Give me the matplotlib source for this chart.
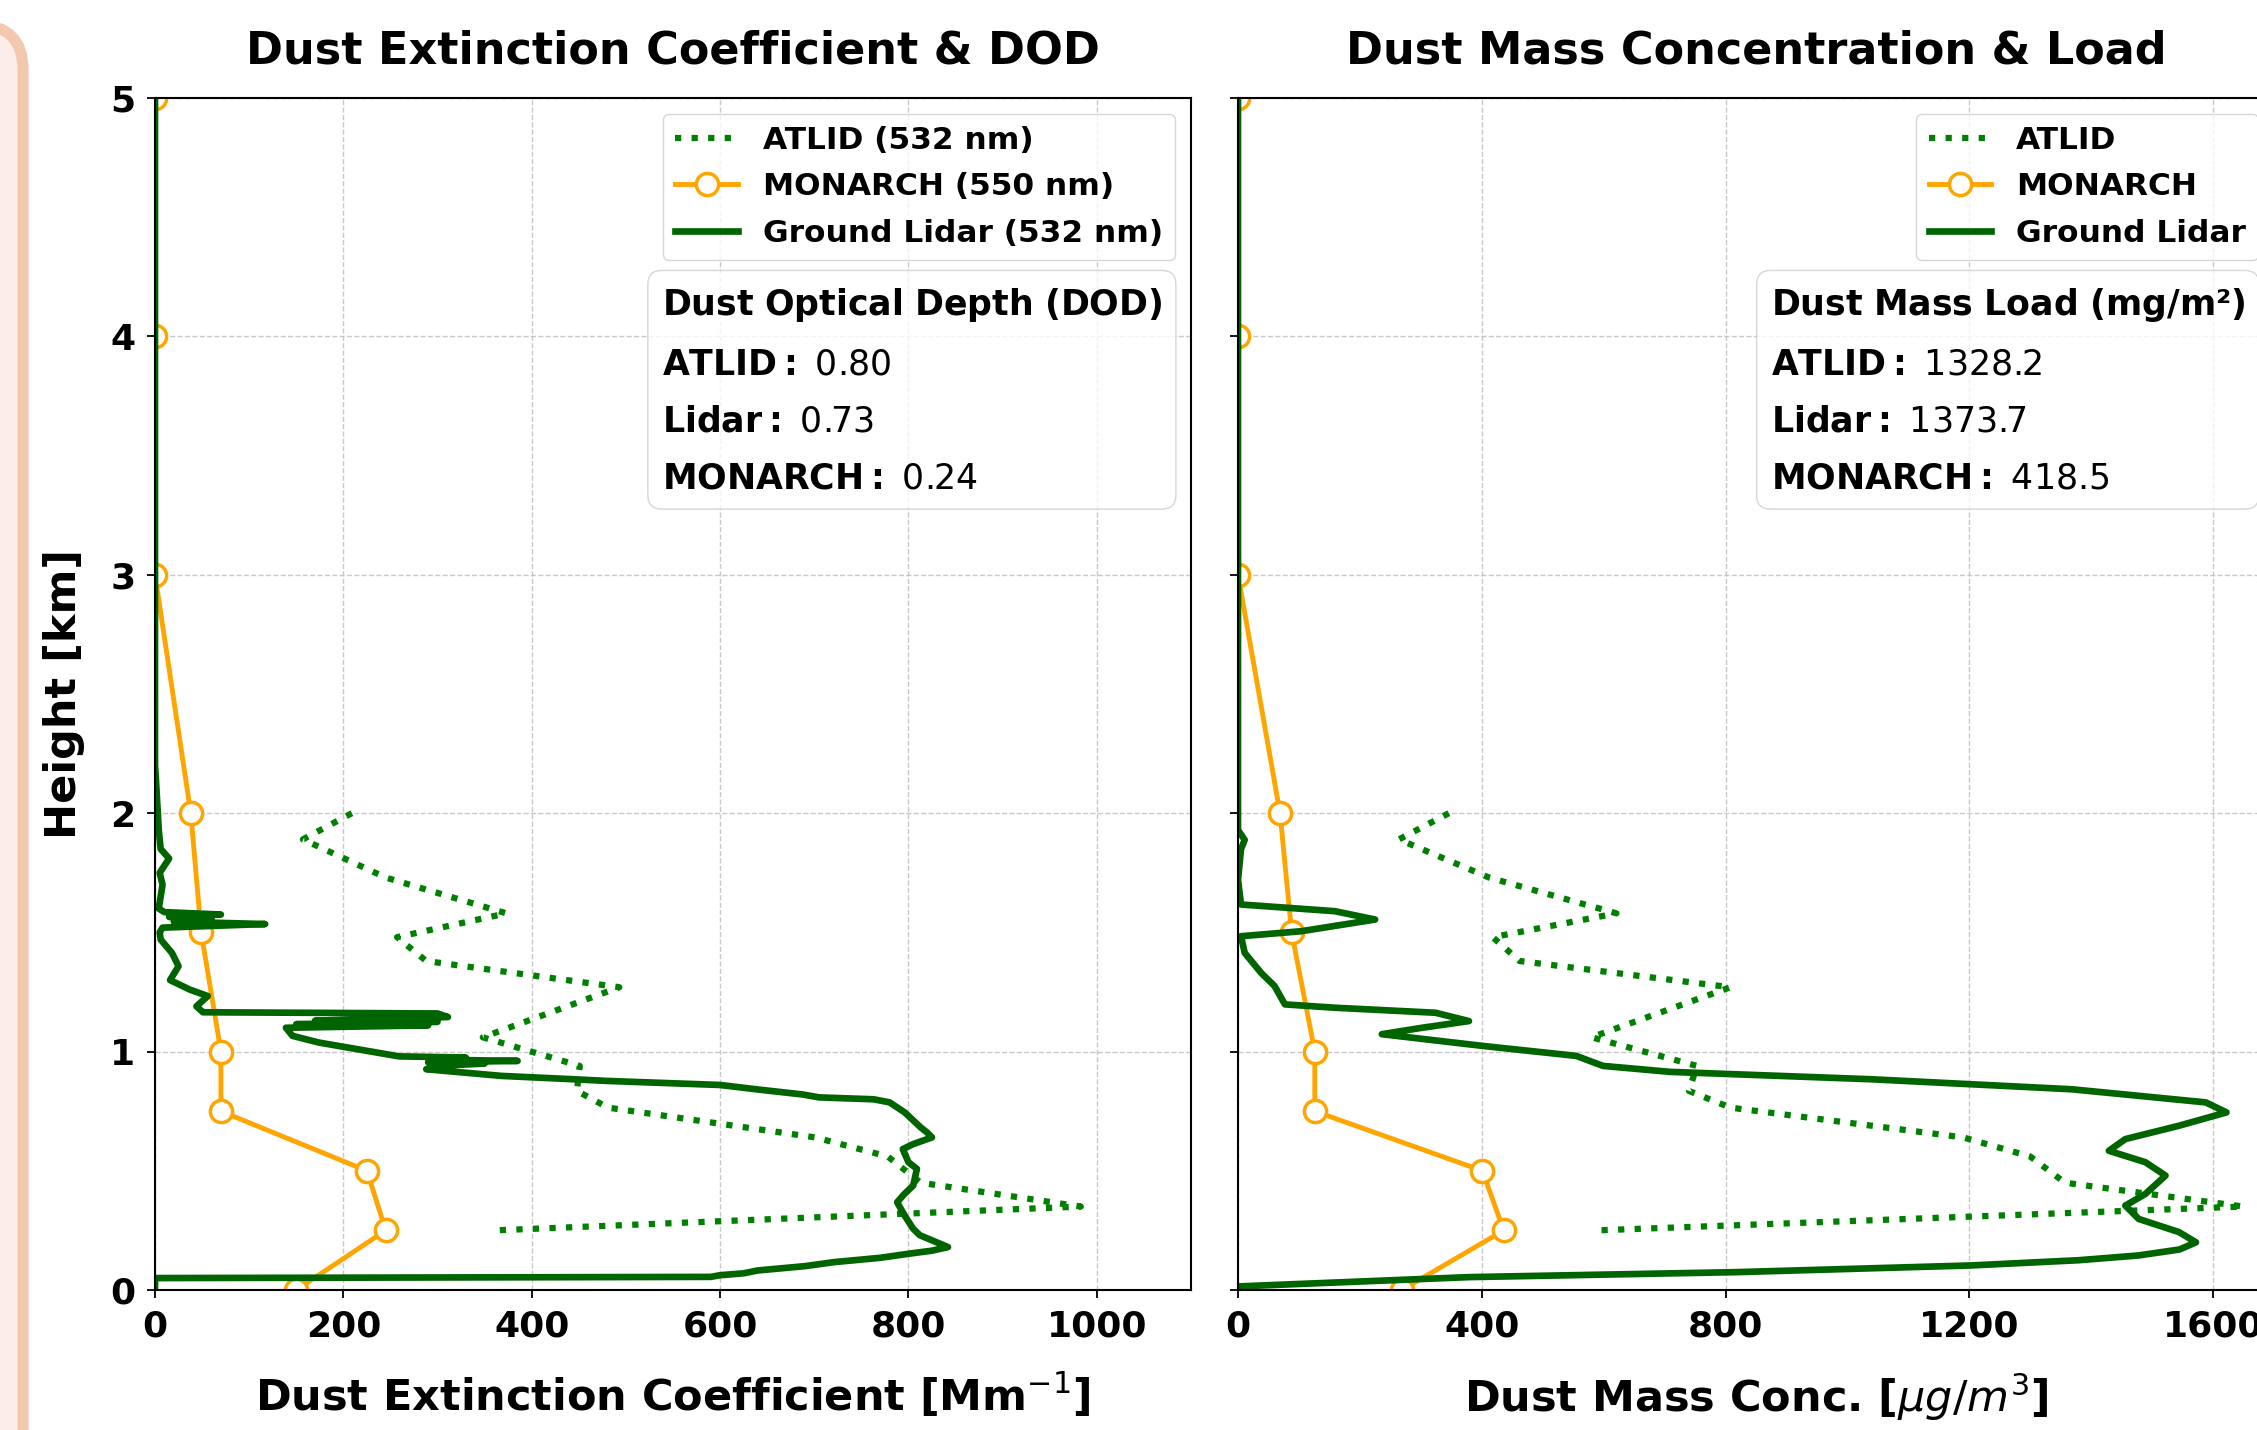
import matplotlib
matplotlib.use('Agg')
import matplotlib.pyplot as plt
from matplotlib.patches import FancyBboxPatch
from matplotlib.transforms import IdentityTransform

plt.rcParams['font.family'] = ['DejaVu Sans']
plt.rcParams['mathtext.fontset'] = 'dejavusans'

# MONARCH model (discrete levels)
monarch_h = [0.0, 0.25, 0.5, 0.75, 1.0, 1.5, 2.0, 3.0, 4.0, 5.0]
monarch_ext = [150, 245, 225, 70, 70, 49, 38, 0, 0, 0]
monarch_mass = [269, 436, 401, 126, 126, 88, 69, 0, 0, 0]

# ATLID profile
atlid_h = [2.00, 1.89, 1.73, 1.58, 1.48, 1.38, 1.27, 1.06, 0.94, 0.835, 0.765,
           0.64, 0.56, 0.45, 0.35, 0.25]
atlid_ext = [209, 157, 245, 373, 257, 288, 493, 348, 451, 448, 481,
             701, 778, 813, 983, 360]
atlid_mass = [346, 264, 412, 621, 418, 462, 808, 580, 753, 740, 808,
              1190, 1300, 1357, 1650, 588]

# ground lidar extinction (high resolution)
lidar_h_ext = [0.0, 0.05, 0.055, 0.062, 0.07, 0.082, 0.10, 0.117, 0.135, 0.152,
               0.165, 0.18, 0.20, 0.23, 0.257, 0.312, 0.368, 0.40, 0.438, 0.508,
               0.536, 0.591, 0.612, 0.64, 0.66, 0.682, 0.745, 0.787, 0.80, 0.808,
               0.82, 0.842, 0.86, 0.877, 0.885, 0.898, 0.926, 0.94, 0.95, 0.955,
               0.961, 0.966, 0.975, 0.98, 1.038, 1.066, 1.10, 1.11, 1.115, 1.125,
               1.13, 1.145, 1.16, 1.165, 1.19, 1.233, 1.26, 1.30, 1.358, 1.414,
               1.47, 1.50, 1.52, 1.535, 1.545, 1.555, 1.565, 1.575, 1.585, 1.60,
               1.70, 1.75, 1.81, 1.85, 1.93, 2.0, 2.14, 2.2, 5.0]
lidar_ext = [0, 0, 590, 600, 625, 640, 690, 721, 770, 800,
             825, 842, 830, 812, 805, 796, 788, 795, 805, 809,
             800, 794, 805, 825, 820, 813, 796, 780, 763, 705,
             688, 638, 600, 480, 439, 368, 288, 300, 350, 290,
             385, 300, 330, 259, 174, 146, 139, 290, 150, 300,
             170, 311, 300, 51, 44, 56, 37, 16, 25, 18,
             6, 5, 8, 117, 20, 60, 15, 70, 10, 4,
             8, 5, 15, 6, 4, 3, 1, 0, 0]

# ground lidar mass concentration
lidar_h_mass = [0.0, 0.015, 0.054, 0.075, 0.103, 0.125, 0.145, 0.17, 0.20, 0.243,
                0.298, 0.354, 0.403, 0.48, 0.536, 0.584, 0.633, 0.689, 0.745, 0.787,
                0.842, 0.884, 0.915, 0.94, 0.982, 1.024, 1.073, 1.10, 1.128, 1.163,
                1.184, 1.198, 1.275, 1.33, 1.414, 1.484, 1.505, 1.554, 1.589, 1.617,
                1.72, 1.85, 1.888, 1.93, 5.0]
lidar_mass = [0, 0, 379, 819, 1203, 1380, 1478, 1545, 1572, 1544,
              1478, 1456, 1489, 1522, 1489, 1429, 1456, 1544, 1622, 1588,
              1368, 1039, 709, 599, 555, 401, 236, 302, 379, 324,
              159, 77, 60, 38, 11, 5, 104, 225, 159, 5,
              0, 5, 11, 0, 0]

dod_labels = ['ATLID', 'Lidar', 'MONARCH']
dod_values = [0.80, 0.73, 0.24]
load_values = [1328.2, 1373.7, 418.5]

fig = plt.figure(figsize=(22.57, 14.30), dpi=100)

# pink frame at the left edge of the screenshot
frame = FancyBboxPatch((-100, -100), 123, 1505, boxstyle='round,pad=0,rounding_size=45',
                       transform=IdentityTransform(), facecolor='#FBEEE8',
                       edgecolor='#F4C7AF', linewidth=8)
fig.patches.append(frame)

ax1 = fig.add_axes([155 / 2257, 140 / 1430, 1036 / 2257, 1192 / 1430])
ax2 = fig.add_axes([1238 / 2257, 140 / 1430, 1036 / 2257, 1192 / 1430], sharey=ax1)


def draw(ax, atlid, monarch, lidar_h, lidar, labels):
    ax.plot(atlid, atlid_h, linestyle=':', color='green', linewidth=4.5, label=labels[0])
    ax.plot(monarch, monarch_h, color='orange', linewidth=3.5, marker='o', markersize=16,
            markerfacecolor='white', markeredgewidth=2.5, label=labels[1])
    ax.plot(lidar, lidar_h, color='darkgreen', linewidth=4.8, label=labels[2])
    ax.grid(True, linestyle='--', color='#bbbbbb', linewidth=1, alpha=0.8)
    ax.tick_params(labelsize=26, length=6, width=1.3, pad=8)
    for s in ax.spines.values():
        s.set_linewidth(1.5)
    ax.legend(loc='upper right', prop={'weight': 'bold', 'size': 22.5},
              handlelength=2.0, borderaxespad=0.5, labelspacing=0.55)


draw(ax1, atlid_ext, monarch_ext, lidar_h_ext, lidar_ext,
     ['ATLID (532 nm)', 'MONARCH (550 nm)', 'Ground Lidar (532 nm)'])
draw(ax2, atlid_mass, monarch_mass, lidar_h_mass, lidar_mass,
     ['ATLID', 'MONARCH', 'Ground Lidar'])

ax1.set_xlim(0, 1100)
ax1.set_xticks([0, 200, 400, 600, 800, 1000])
ax2.set_xlim(0, 1700)
ax2.set_xticks([0, 400, 800, 1200, 1600])
ax1.set_ylim(0, 5)
ax1.set_yticks([0, 1, 2, 3, 4, 5])
plt.setp(ax2.get_yticklabels(), visible=False)
for ax in (ax1, ax2):
    plt.setp(ax.get_xticklabels(), fontweight='bold')
    plt.setp(ax.get_yticklabels(), fontweight='bold')

ax1.set_title('Dust Extinction Coefficient & DOD', fontsize=32, fontweight='bold', pad=25)
ax2.set_title('Dust Mass Concentration & Load', fontsize=32, fontweight='bold', pad=25)
ax1.set_xlabel('Dust Extinction Coefficient [Mm$^{-1}$]', fontsize=31, fontweight='bold', labelpad=20)
ax2.set_xlabel(r'Dust Mass Conc. [$\mu g/m^3$]', fontsize=31, fontweight='bold', labelpad=20)
ax1.set_ylabel('Height [km]', fontsize=31, fontweight='bold', labelpad=18)

box = dict(boxstyle='round,pad=0.4', facecolor='white', edgecolor='0.8', alpha=0.8)
txt1 = r'$\bf{Dust\ Optical\ Depth\ (DOD)}$'
for name, v in zip(dod_labels, dod_values):
    txt1 += '\n' + r'$\bf{' + name + ':}$ ' + f'{v:.2f}'
ax1.text(0.972, 0.842, txt1, transform=ax1.transAxes, ha='right', va='top',
         multialignment='left', fontsize=25, linespacing=1.85, bbox=box)

txt2 = r'$\bf{Dust\ Mass\ Load\ (mg/m²)}$'
for name, v in zip(dod_labels, load_values):
    txt2 += '\n' + r'$\bf{' + name + ':}$ ' + f'{v:.1f}'
ax2.text(0.972, 0.842, txt2, transform=ax2.transAxes, ha='right', va='top',
         multialignment='left', fontsize=25, linespacing=1.85, bbox=box)

fig.savefig('out.png', dpi=100)
